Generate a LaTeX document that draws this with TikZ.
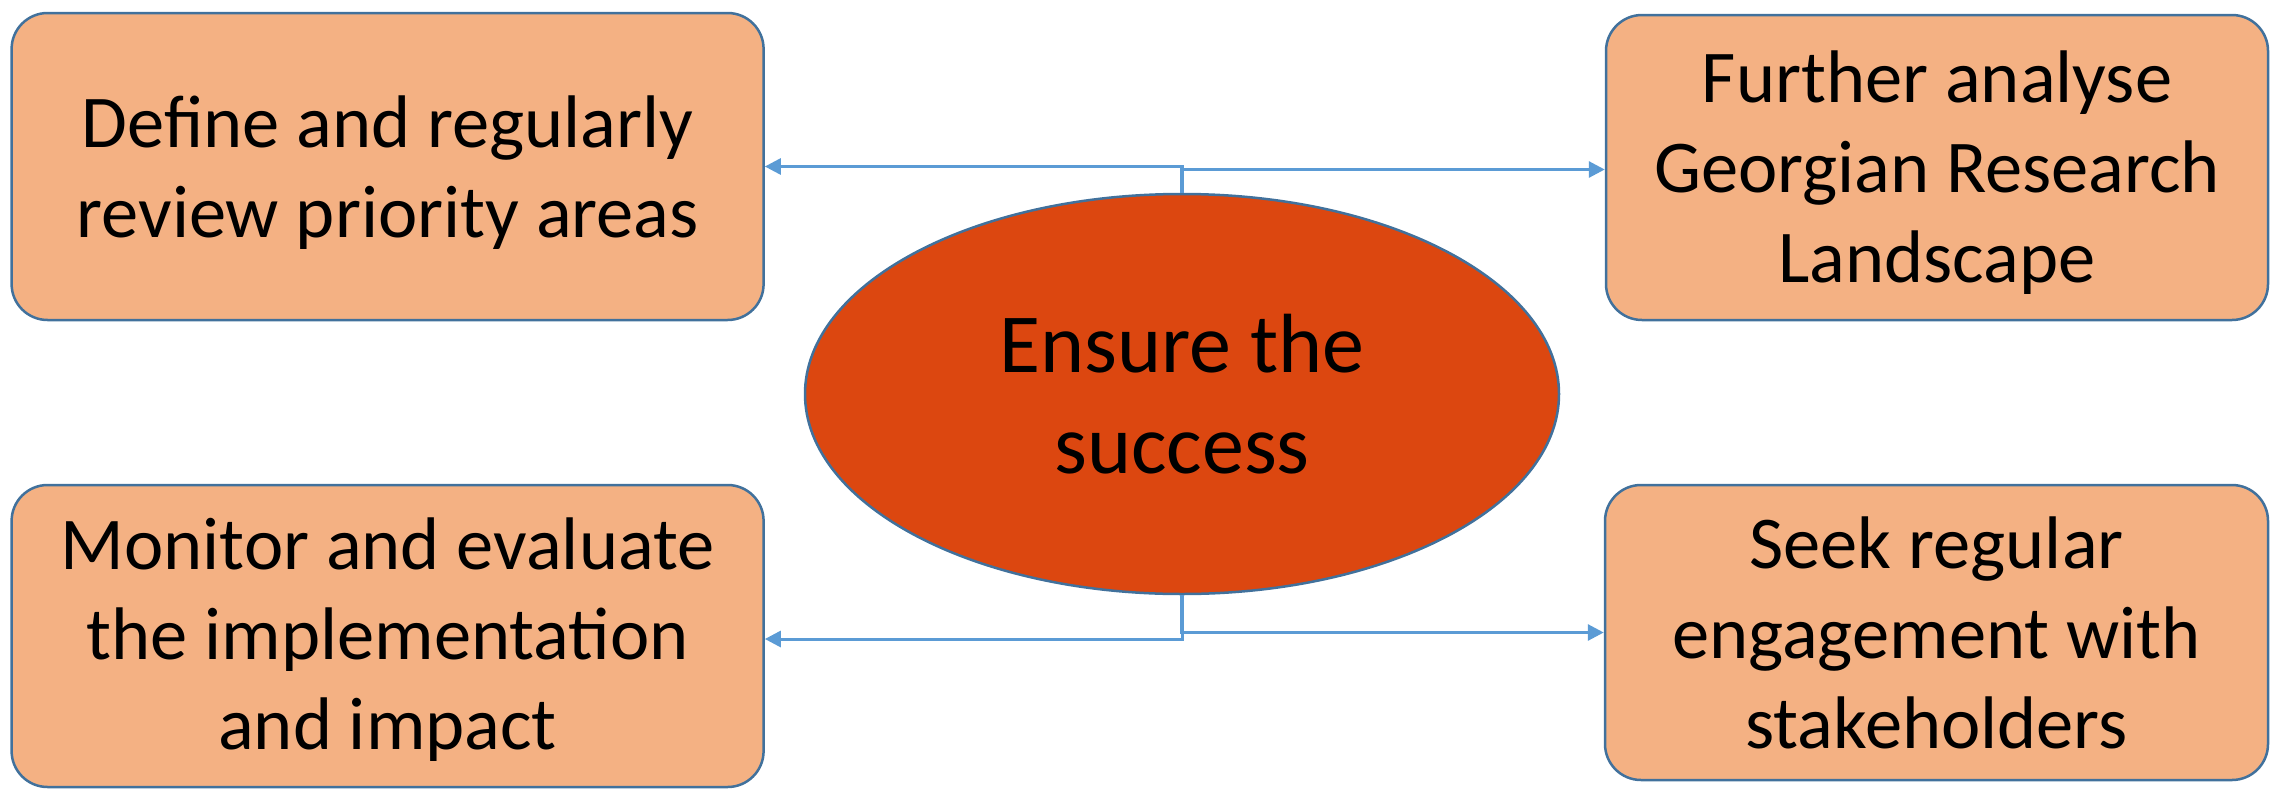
\documentclass[tikz,border=0pt]{standalone}
\usepackage{fontspec}
\setmainfont{Carlito}
\usetikzlibrary{arrows.meta,shapes.geometric}
\definecolor{boxfill}{HTML}{F4B183}
\definecolor{boxline}{HTML}{41719C}
\definecolor{ellfill}{HTML}{DC4710}
\definecolor{conncol}{HTML}{5B9BD5}
\tikzset{
  box/.style={draw=boxline, line width=2.5pt, fill=boxfill, rounded corners=36pt,
    inner sep=0pt},
  boxtext/.style={align=center, inner sep=0pt, font=\fontsize{74.5}{90}\selectfont},
  ell/.style={ellipse, draw=boxline, line width=2.5pt, fill=ellfill, inner sep=0pt,
    minimum width=754pt, minimum height=400pt, align=center,
    font=\fontsize{84}{101}\selectfont},
  conn/.style={draw=conncol, line width=3pt, -{Triangle[length=16pt,width=16pt]}}
}
\begin{document}
\begin{tikzpicture}[x=1pt,y=-1pt]
\useasboundingbox (0,0) rectangle (2272,790);
\node[box, minimum width=752pt, minimum height=307pt] (tl) at (387.6,166.5) {};
\node[boxtext] (tltext) at ([yshift=-6pt]tl.center) {Define and regularly\\review priority areas};
\node[box, minimum width=662pt, minimum height=305pt] (tr) at (1937,167.5) {};
\node[boxtext] (trtext) at ([yshift=-5pt]tr.center) {Further analyse\\Georgian Research\\Landscape};
\node[box, minimum width=752pt, minimum height=302pt] (bl) at (387.6,636) {};
\node[boxtext] (bltext) at ([yshift=-4pt]bl.center) {Monitor and evaluate\\the implementation\\and impact};
\node[box, minimum width=663pt, minimum height=295pt] (br) at (1936.5,632.5) {};
\node[boxtext] (brtext) at ([yshift=0pt]br.center) {Seek regular\\engagement with\\stakeholders};
\node[ell] (ell) at (1182,394) {Ensure the\\success};
\draw[conn] (ell.north) |- (tl.east);
\draw[conn] ([xshift=-1pt]ell.north) |- ([yshift=-2pt]tr.west);
\draw[conn] (ell.south) |- ([yshift=-3pt]bl.east);
\draw[conn] ([xshift=-1pt]ell.south) |- (br.west);
\end{tikzpicture}
\end{document}
